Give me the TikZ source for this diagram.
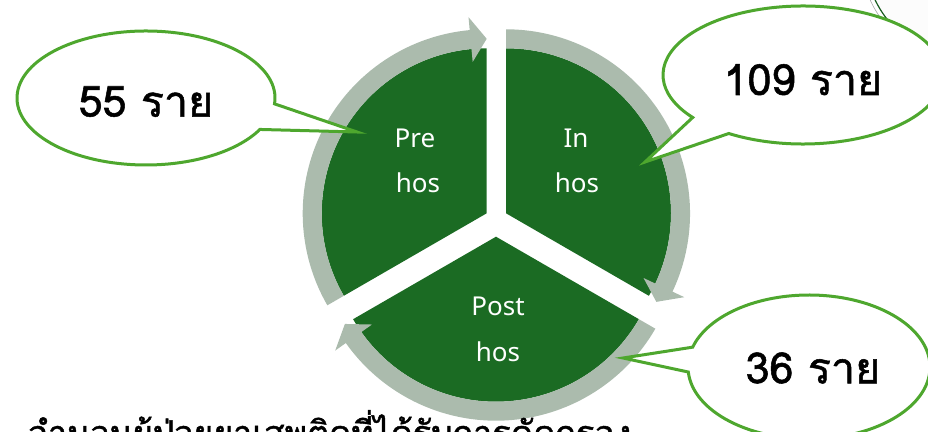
\documentclass[tikz,border=0pt]{standalone}
\usepackage{fontspec}
\setmainfont{Noto Sans}
\newfontfamily\thaifont[Script=Thai, FakeBold=1.2]{Loma}
\definecolor{slicegreen}{HTML}{1B6B23}
\definecolor{bandgray}{HTML}{ABBBAD}
\definecolor{calloutgreen}{HTML}{4EA72E}
\begin{document}
\begin{tikzpicture}[x=1pt,y=1pt,
  slice/.style={fill=slicegreen},
  band/.style={fill=bandgray},
  callout/.style={draw=calloutgreen, line width=3pt, fill=white, line join=miter},
  slicelabel/.style={text=white, font=\fontsize{26}{30}\selectfont, anchor=base, inner sep=0pt},
  countlabel/.style={font=\thaifont\fontsize{43}{50}\selectfont, anchor=base, inner sep=0pt},
]
\useasboundingbox (0,0) rectangle (928,431);
% partial shape in the top right corner
\coordinate (tr) at (966,474);
\fill[black!1] (tr) circle[radius=100];
\draw[black!35, line width=0.6pt] (tr) circle[radius=105];
\draw[slicegreen!85!black, line width=1.2pt] (tr) circle[radius=100.5];
% Pre hos
\begin{scope}[shift={(486.7,217.7)}]
  \fill[slice] (0,0) -- (210:165) arc[start angle=210,end angle=90,radius=165] -- cycle;
  \fill[band] (210:165) arc[start angle=210,end angle=95.3,radius=165] -- (95.3:152) -- (90:174.5) -- (95.3:197) -- (95.3:184) arc[start angle=95.3,end angle=210,radius=184] -- cycle;
\end{scope}
% In hos
\begin{scope}[shift={(506,217.7)}]
  \fill[slice] (0,0) -- (90:165) arc[start angle=90,end angle=-30,radius=165] -- cycle;
  \fill[band] (90:165) arc[start angle=90,end angle=-25.2,radius=165] -- (-25.2:152) -- (-30.5:174.5) -- (-25.2:197) -- (-25.2:184) arc[start angle=-25.2,end angle=90,radius=184] -- cycle;
\end{scope}
% Post hos
\begin{scope}[shift={(496,194.3)}]
  \fill[slice] (0,0) -- (-30:165) arc[start angle=-30,end angle=-150,radius=165] -- cycle;
  \fill[band] (-30:165) arc[start angle=-30,end angle=-144.7,radius=165] -- (-144.7:152) -- (-150:174.5) -- (-144.7:197) -- (-144.7:184) arc[start angle=-144.7,end angle=-30,radius=184] -- cycle;
\end{scope}
\node[slicelabel] (pre1) at (415,283) {Pre};
\node[slicelabel] (pre2) at (418,238) {hos};
\node[slicelabel] (in1) at (576,283) {In};
\node[slicelabel] (in2) at (577,238) {hos};
\node[slicelabel] (post1) at (498,115) {Post};
\node[slicelabel] (post2) at (498,70) {hos};
% callouts
\begin{scope}[shift={(146,333)}]
  \coordinate (t55) at (211,-34);
  \draw[callout] (-5:129 and 67) arc[start angle=-5,end angle=332,x radius=129,y radius=67] -- (t55) -- cycle;
\end{scope}
\begin{scope}[shift={(803,356)}]
  \coordinate (t109) at (-158,-87);
  \draw[callout] (238:140 and 69) arc[start angle=238,end angle=578,x radius=140,y radius=69] -- (t109) -- cycle;
\end{scope}
\begin{scope}[shift={(809,64)}]
  \coordinate (t36) at (-186,9);
  \draw[callout] (184:121 and 72) arc[start angle=184,end angle=524,x radius=121,y radius=72] -- (t36) -- cycle;
\end{scope}
\node[countlabel] (c55) at (146,314.3) {55 ราย};
\node[countlabel] (c109) at (803,336) {109 ราย};
\node[countlabel] (c36) at (813,47.7) {36 ราย};
\node[font=\thaifont\fontsize{34}{40}\selectfont, anchor=base west, inner sep=0pt] (title) at (28,-14) {จำนวนผู้ป่วยยาเสพติดที่ได้รับการคัดกรอง};
\end{tikzpicture}
\end{document}
